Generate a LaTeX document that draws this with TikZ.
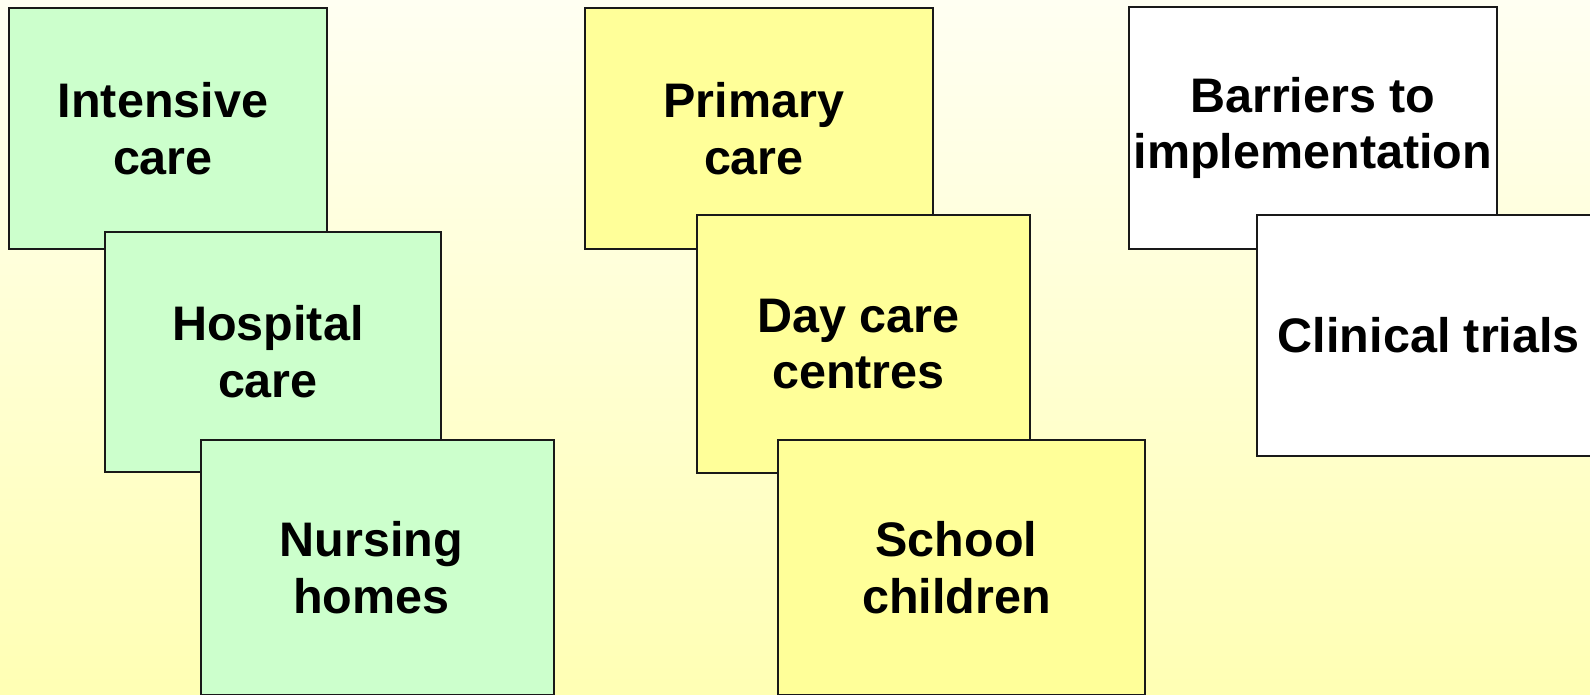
\documentclass[tikz,border=0pt]{standalone}
\usepackage{fontspec}
\setmainfont{Liberation Sans}
\usepackage{tikz}
\definecolor{cardgreen}{HTML}{CCFFCC}
\definecolor{cardyellow}{HTML}{FFFF99}
\definecolor{slidetop}{HTML}{FFFFF2}
\definecolor{slidebottom}{HTML}{FFFFB4}

\begin{document}
\begin{tikzpicture}[x=1pt, y=-1pt,
      every node/.append style={font=\bfseries\fontsize{48.5}{56.6}\selectfont,align=center,anchor=north west,inner sep=0pt},
      card/.style={draw=black!90,line width=1.8pt}]
    \tikzstyle{greencard} = [card,fill=cardgreen]
    \tikzstyle{yellowcard} = [card,fill=cardyellow]
    \tikzstyle{whitecard} = [card,fill=white]
    \useasboundingbox (0,0) rectangle (1590,695);
    \clip (0,0) rectangle (1590,695);
    \shade[top color=slidetop,bottom color=slidebottom] (0,0) rectangle (1590,695);
    \node (intensive) [greencard,minimum width=318pt,minimum height=241pt] at (8,7) {Intensive\kern10pt\\care\kern10pt};
    \node (hospital) [greencard,minimum width=336pt,minimum height=240pt] at (104,231) {Hospital\kern10pt\\care\kern10pt};
    \node (nursing) [greencard,minimum width=353pt,minimum height=255pt] at (200,439) {Nursing\kern12pt\\homes\kern12pt};
    \node (primary) [yellowcard,minimum width=348pt,minimum height=241pt] at (584,7) {Primary\kern10pt\\care\kern10pt};
    \node (daycare) [yellowcard,minimum width=333pt,minimum height=258pt] at (696,214) {Day care\kern10pt\\centres\kern10pt};
    \node (school) [yellowcard,minimum width=367pt,minimum height=255pt] at (777,439) {School\kern10pt\\children\kern10pt};
    \node (barriers) [whitecard,minimum width=368pt,minimum height=242pt] at (1128,6) {Barriers to\\implementation};
    \node (trials) [whitecard,minimum width=344pt,minimum height=241pt] at (1256,214) {Clinical trials};
  \end{tikzpicture}
\end{document}
